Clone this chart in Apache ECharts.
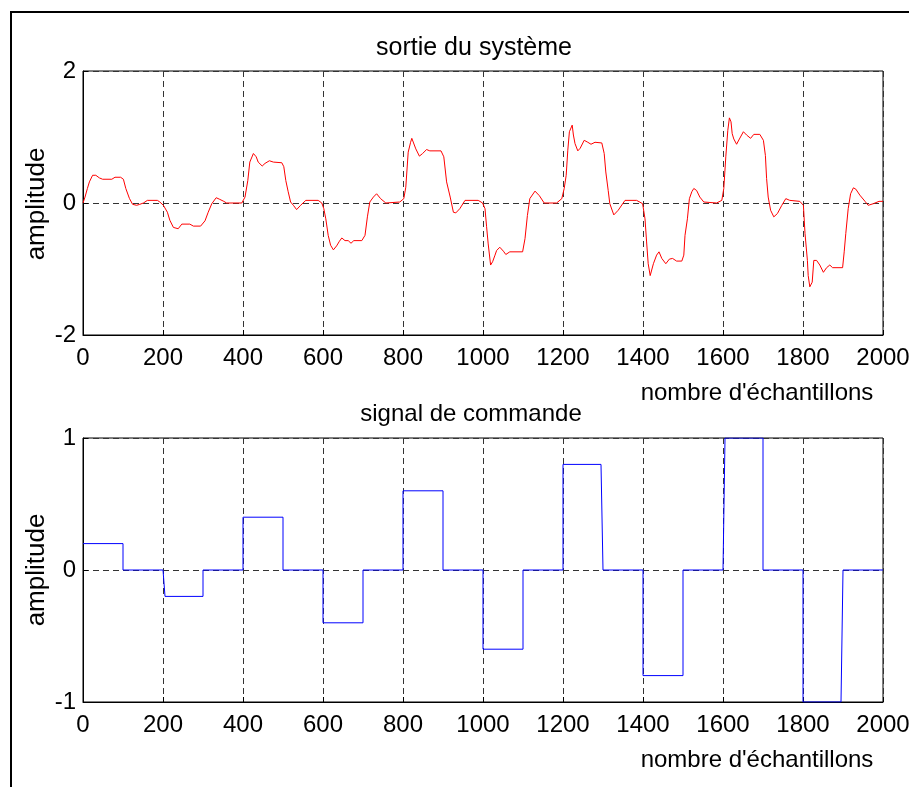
<!DOCTYPE html>
<html>
<head>
<meta charset="utf-8">
<title>sortie du système</title>
<script src="https://cdn.jsdelivr.net/npm/echarts@6/dist/echarts.min.js"></script>
<style>
  html, body { margin: 0; padding: 0; background: #fff; }
  #chart { width: 909px; height: 787px; }
</style>
</head>
<body>
<div id="chart"></div>
<script>
// sortie du système
var outX = [0,5,11,16,24,32,41,49,72,80,94,101,107,116,124,134,142,151,161,186,192,
  201,211,217,226,238,247,267,276,294,305,313,322,333,342,352,359,397,
  405,412,417,426,433,438,448,455,466,476,497,502,507,513,519,526,534,544,557,588,597,
  602,607,613,619,626,634,641,647,655,663,670,677,697,705,711,717,726,734,744,757,792,
  802,807,813,819,822,826,832,841,849,859,867,895,902,909,918,926,932,942,955,988,999,
  1005,1009,1013,1019,1024,1030,1034,1042,1051,1057,1067,1099,1105,1111,1117,1130,1141,1153,1184,1197,
  1203,1208,1212,1216,1223,1226,1230,1237,1243,1253,1262,1270,1280,1297,1303,1307,1313,1317,1327,1338,1355,1384,1399,
  1405,1409,1413,1418,1422,1426,1434,1440,1447,1457,1466,1474,1484,1497,1502,1505,1511,1516,1522,1527,1534,1542,1552,1557,1584,1597,
  1602,1607,1612,1616,1620,1623,1627,1634,1641,1651,1659,1669,1677,1692,1701,1706,1709,1713,1719,1727,1736,1747,1757,1767,1792,
  1801,1805,1811,1813,1817,1823,1827,1834,1842,1851,1859,1867,1874,1899,1903,1907,1913,1919,1926,1932,1942,1955,1963,1976,1990,2000];
var outY = [0,0.09,0.22,0.32,0.42,0.42,0.38,0.36,0.36,0.39,0.39,0.36,0.22,0.07,-0.02,-0.035,-0.02,0,0.04,0.04,0.015,
  -0.035,-0.14,-0.26,-0.37,-0.39,-0.32,-0.32,-0.35,-0.35,-0.27,-0.14,-0.01,0.08,0.055,0.025,0,0,
  0.09,0.34,0.62,0.75,0.70,0.62,0.56,0.60,0.64,0.62,0.61,0.55,0.34,0.17,0.015,-0.035,-0.10,-0.035,0.04,0.04,0,
  -0.086,-0.24,-0.49,-0.64,-0.71,-0.65,-0.58,-0.53,-0.57,-0.57,-0.61,-0.57,-0.57,-0.49,-0.21,0.015,0.09,0.14,0.066,0,0.015,
  0.066,0.24,0.77,0.92,0.98,0.95,0.82,0.71,0.75,0.81,0.79,0.79,0.70,0.32,0.09,-0.14,-0.15,-0.086,0.04,0.04,0,
  -0.086,-0.36,-0.62,-0.94,-0.89,-0.79,-0.72,-0.67,-0.73,-0.78,-0.74,-0.74,-0.54,-0.19,0.066,0.18,0.11,0,0,0.066,
  0.22,0.42,0.80,1.08,1.18,1.03,0.90,0.79,0.83,0.95,0.92,0.89,0.92,0.91,0.75,0.47,0.19,-0.01,-0.18,-0.11,0.04,0.04,-0.01,
  -0.24,-0.59,-0.92,-1.10,-1.12,-0.92,-0.79,-0.74,-0.84,-0.92,-0.85,-0.84,-0.88,-0.88,-0.79,-0.49,-0.24,0.066,0.17,0.22,0.19,0.09,0.015,0,0,0.04,
  0.22,0.70,1.10,1.29,1.23,1.05,0.97,0.89,0.97,1.08,1.03,0.98,1.04,1.04,0.95,0.72,0.37,0.09,-0.11,-0.21,-0.16,-0.035,0.066,0.04,0.025,
  -0.035,-0.46,-0.87,-1.10,-1.27,-1.20,-0.87,-0.87,-0.94,-1.05,-0.98,-0.94,-0.98,-0.98,-0.74,-0.46,-0.086,0.14,0.23,0.21,0.12,0.025,-0.035,-0.01,0.025,0.025];

// signal de commande (sommets de la courbe en escalier)
var cmdX = [0,100,100,200,205,300,300,400,400,500,500,600,600,700,700,800,800,900,900,1000,
  1000,1100,1100,1200,1200,1295,1300,1400,1400,1500,1500,1600,1605,1700,1700,1800,1800,1895,1900,2000];
var cmdY = [0.2,0.2,0,0,-0.2,-0.2,0,0,0.4,0.4,0,0,-0.4,-0.4,0,0,0.6,0.6,0,0,
  -0.6,-0.6,0,0,0.8,0.8,0,0,-0.8,-0.8,0,0,1,1,0,0,-1,-1,0,0];

var xMin = 0, xMax = 2000, xStep = 200;
var topTicks = [-2, 0, 2];
var botTicks = [-1, 0, 1];

function pairs(xs, ys) {
  var d = [];
  for (var i = 0; i < xs.length; i++) d.push([xs[i], ys[i]]);
  return d;
}

var font = "'Liberation Sans', Arial, Helvetica, sans-serif";
var dash = { color: '#333', type: [6, 4], width: 1 };
var plain = function (v) { return String(v); };

function xAx(idx) {
  return {
    type: 'value', gridIndex: idx, min: xMin, max: xMax, interval: xStep,
    axisLine: { show: true, onZero: false, lineStyle: { color: '#000', width: 1 } },
    axisTick: { show: true, inside: true, length: 5, lineStyle: { color: '#000' } },
    axisLabel: { color: '#000', fontSize: 24, fontFamily: font, margin: 11, formatter: plain },
    splitLine: { show: true, lineStyle: dash }
  };
}
function yAx(idx, ticks) {
  return {
    type: 'value', gridIndex: idx, min: ticks[0], max: ticks[ticks.length - 1],
    interval: ticks[1] - ticks[0],
    axisLine: { show: true, onZero: false, lineStyle: { color: '#000', width: 1 } },
    axisTick: { show: true, inside: true, length: 5, lineStyle: { color: '#000' } },
    axisLabel: { color: '#000', fontSize: 24, fontFamily: font, margin: 7, formatter: plain },
    splitLine: { show: true, lineStyle: dash }
  };
}
function label(txt, x, y, size, rot) {
  return {
    type: 'text', x: x, y: y, rotation: rot || 0, silent: true,
    style: { text: txt, fill: '#000', font: size + 'px ' + font, textAlign: 'center', textVerticalAlign: 'middle' }
  };
}

var chart = echarts.init(document.getElementById('chart'));
chart.setOption({
  animation: false,
  backgroundColor: '#fff',
  grid: [
    { left: 83, top: 71, width: 800, height: 264, outerBoundsMode: 'none', containLabel: false,
      show: true, borderColor: '#000', borderWidth: 1, backgroundColor: '#fff' },
    { left: 83, top: 438, width: 800, height: 264, outerBoundsMode: 'none', containLabel: false,
      show: true, borderColor: '#000', borderWidth: 1, backgroundColor: '#fff' }
  ],
  xAxis: [xAx(0), xAx(1)],
  yAxis: [yAx(0, topTicks), yAx(1, botTicks)],
  series: [
    {
      type: 'line', xAxisIndex: 0, yAxisIndex: 0, data: pairs(outX, outY),
      showSymbol: false, lineStyle: { color: '#ff0000', width: 1 }, z: 5
    },
    {
      type: 'line', xAxisIndex: 1, yAxisIndex: 1, data: pairs(cmdX, cmdY),
      showSymbol: false, lineStyle: { color: '#0000ff', width: 1 }, z: 5
    }
  ],
  graphic: [
    { type: 'polyline', silent: true, shape: { points: [[11, 787], [11, 12], [909, 12]] },
      style: { stroke: '#000', lineWidth: 2, fill: null } },
    label('sortie du système', 474, 48, 25),
    label('amplitude', 37, 204, 26, Math.PI / 2),
    label("nombre d'échantillons", 757, 393, 24),
    label('signal de commande', 471, 414, 24),
    label('amplitude', 37, 570, 26, Math.PI / 2),
    label("nombre d'échantillons", 757, 760, 24)
  ]
});
</script>
</body>
</html>
